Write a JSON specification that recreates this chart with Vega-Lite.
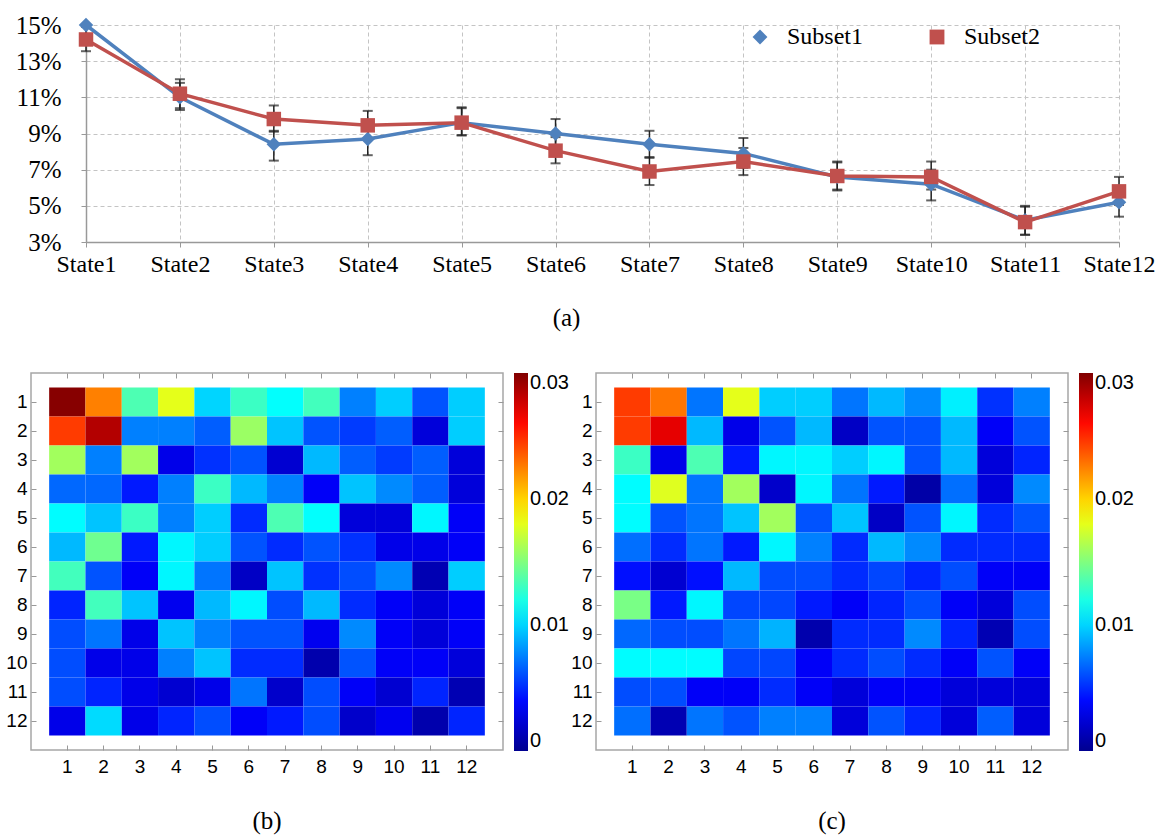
{
  "$schema": "https://vega.github.io/schema/vega-lite/v6.json",
  "background": "white",
  "padding": {"left": 5, "top": 13, "right": 0, "bottom": 0},
  "config": {"view": {"stroke": null}, "font": "Liberation Sans"},
  "spacing": 40,
  "datasets": {
    "lines": [
      {"state": "State1", "series": "Subset1", "value": 15.0, "lo": 14.3, "hi": 15.0},
      {"state": "State2", "series": "Subset1", "value": 11.0, "lo": 10.3, "hi": 11.8},
      {"state": "State3", "series": "Subset1", "value": 8.4, "lo": 7.5, "hi": 9.15},
      {"state": "State4", "series": "Subset1", "value": 8.7, "lo": 7.8, "hi": 9.5},
      {"state": "State5", "series": "Subset1", "value": 9.6, "lo": 8.9, "hi": 10.4},
      {"state": "State6", "series": "Subset1", "value": 9.0, "lo": 8.2, "hi": 9.8},
      {"state": "State7", "series": "Subset1", "value": 8.4, "lo": 7.65, "hi": 9.15},
      {"state": "State8", "series": "Subset1", "value": 7.9, "lo": 7.1, "hi": 8.75},
      {"state": "State9", "series": "Subset1", "value": 6.6, "lo": 5.85, "hi": 7.4},
      {"state": "State10", "series": "Subset1", "value": 6.2, "lo": 5.3, "hi": 7.0},
      {"state": "State11", "series": "Subset1", "value": 4.2, "lo": 3.4, "hi": 5.0},
      {"state": "State12", "series": "Subset1", "value": 5.2, "lo": 4.4, "hi": 6.0},
      {"state": "State1", "series": "Subset2", "value": 14.2, "lo": 13.55, "hi": 14.9},
      {"state": "State2", "series": "Subset2", "value": 11.2, "lo": 10.4, "hi": 12.0},
      {"state": "State3", "series": "Subset2", "value": 9.8, "lo": 9.1, "hi": 10.55},
      {"state": "State4", "series": "Subset2", "value": 9.45, "lo": 8.7, "hi": 10.25},
      {"state": "State5", "series": "Subset2", "value": 9.6, "lo": 8.9, "hi": 10.45},
      {"state": "State6", "series": "Subset2", "value": 8.05, "lo": 7.35, "hi": 8.8},
      {"state": "State7", "series": "Subset2", "value": 6.9, "lo": 6.15, "hi": 7.7},
      {"state": "State8", "series": "Subset2", "value": 7.45, "lo": 6.7, "hi": 8.2},
      {"state": "State9", "series": "Subset2", "value": 6.65, "lo": 5.9, "hi": 7.45},
      {"state": "State10", "series": "Subset2", "value": 6.6, "lo": 5.9, "hi": 7.45},
      {"state": "State11", "series": "Subset2", "value": 4.1, "lo": 3.4, "hi": 4.95},
      {"state": "State12", "series": "Subset2", "value": 5.8, "lo": 5.05, "hi": 6.6}
    ],
    "b": [
      {"r":1,"c":1,"v":0.0298},{"r":1,"c":2,"v":0.0225},{"r":1,"c":3,"v":0.0135},{"r":1,"c":4,"v":0.018},{"r":1,"c":5,"v":0.0100},{"r":1,"c":6,"v":0.0130},{"r":1,"c":7,"v":0.0113},{"r":1,"c":8,"v":0.0132},{"r":1,"c":9,"v":0.0075},{"r":1,"c":10,"v":0.0098},{"r":1,"c":11,"v":0.0062},{"r":1,"c":12,"v":0.0098},
      {"r":2,"c":1,"v":0.0245},{"r":2,"c":2,"v":0.0285},{"r":2,"c":3,"v":0.0075},{"r":2,"c":4,"v":0.0075},{"r":2,"c":5,"v":0.0065},{"r":2,"c":6,"v":0.0158},{"r":2,"c":7,"v":0.0095},{"r":2,"c":8,"v":0.0062},{"r":2,"c":9,"v":0.0055},{"r":2,"c":10,"v":0.0065},{"r":2,"c":11,"v":0.0025},{"r":2,"c":12,"v":0.0098},
      {"r":3,"c":1,"v":0.016},{"r":3,"c":2,"v":0.0075},{"r":3,"c":3,"v":0.016},{"r":3,"c":4,"v":0.003},{"r":3,"c":5,"v":0.0052},{"r":3,"c":6,"v":0.0062},{"r":3,"c":7,"v":0.0022},{"r":3,"c":8,"v":0.0092},{"r":3,"c":9,"v":0.0065},{"r":3,"c":10,"v":0.0055},{"r":3,"c":11,"v":0.0065},{"r":3,"c":12,"v":0.0025},
      {"r":4,"c":1,"v":0.0068},{"r":4,"c":2,"v":0.0068},{"r":4,"c":3,"v":0.0045},{"r":4,"c":4,"v":0.0075},{"r":4,"c":5,"v":0.013},{"r":4,"c":6,"v":0.0092},{"r":4,"c":7,"v":0.0075},{"r":4,"c":8,"v":0.0035},{"r":4,"c":9,"v":0.0095},{"r":4,"c":10,"v":0.0078},{"r":4,"c":11,"v":0.0065},{"r":4,"c":12,"v":0.0025},
      {"r":5,"c":1,"v":0.0112},{"r":5,"c":2,"v":0.0095},{"r":5,"c":3,"v":0.013},{"r":5,"c":4,"v":0.0075},{"r":5,"c":5,"v":0.0098},{"r":5,"c":6,"v":0.005},{"r":5,"c":7,"v":0.0135},{"r":5,"c":8,"v":0.0113},{"r":5,"c":9,"v":0.0025},{"r":5,"c":10,"v":0.0025},{"r":5,"c":11,"v":0.011},{"r":5,"c":12,"v":0.0035},
      {"r":6,"c":1,"v":0.0092},{"r":6,"c":2,"v":0.0145},{"r":6,"c":3,"v":0.0045},{"r":6,"c":4,"v":0.011},{"r":6,"c":5,"v":0.0098},{"r":6,"c":6,"v":0.0062},{"r":6,"c":7,"v":0.005},{"r":6,"c":8,"v":0.0062},{"r":6,"c":9,"v":0.0052},{"r":6,"c":10,"v":0.003},{"r":6,"c":11,"v":0.003},{"r":6,"c":12,"v":0.0035},
      {"r":7,"c":1,"v":0.0132},{"r":7,"c":2,"v":0.0062},{"r":7,"c":3,"v":0.0035},{"r":7,"c":4,"v":0.011},{"r":7,"c":5,"v":0.0072},{"r":7,"c":6,"v":0.0018},{"r":7,"c":7,"v":0.0095},{"r":7,"c":8,"v":0.0052},{"r":7,"c":9,"v":0.006},{"r":7,"c":10,"v":0.0078},{"r":7,"c":11,"v":0.0012},{"r":7,"c":12,"v":0.0098},
      {"r":8,"c":1,"v":0.0048},{"r":8,"c":2,"v":0.0132},{"r":8,"c":3,"v":0.0095},{"r":8,"c":4,"v":0.0032},{"r":8,"c":5,"v":0.0092},{"r":8,"c":6,"v":0.011},{"r":8,"c":7,"v":0.006},{"r":8,"c":8,"v":0.0092},{"r":8,"c":9,"v":0.005},{"r":8,"c":10,"v":0.0035},{"r":8,"c":11,"v":0.0025},{"r":8,"c":12,"v":0.0035},
      {"r":9,"c":1,"v":0.006},{"r":9,"c":2,"v":0.0072},{"r":9,"c":3,"v":0.003},{"r":9,"c":4,"v":0.0095},{"r":9,"c":5,"v":0.0075},{"r":9,"c":6,"v":0.0062},{"r":9,"c":7,"v":0.0062},{"r":9,"c":8,"v":0.0032},{"r":9,"c":9,"v":0.0078},{"r":9,"c":10,"v":0.0035},{"r":9,"c":11,"v":0.0025},{"r":9,"c":12,"v":0.0035},
      {"r":10,"c":1,"v":0.006},{"r":10,"c":2,"v":0.003},{"r":10,"c":3,"v":0.003},{"r":10,"c":4,"v":0.0075},{"r":10,"c":5,"v":0.0095},{"r":10,"c":6,"v":0.005},{"r":10,"c":7,"v":0.005},{"r":10,"c":8,"v":0.001},{"r":10,"c":9,"v":0.0062},{"r":10,"c":10,"v":0.0035},{"r":10,"c":11,"v":0.0035},{"r":10,"c":12,"v":0.0025},
      {"r":11,"c":1,"v":0.006},{"r":11,"c":2,"v":0.0048},{"r":11,"c":3,"v":0.003},{"r":11,"c":4,"v":0.0022},{"r":11,"c":5,"v":0.003},{"r":11,"c":6,"v":0.0072},{"r":11,"c":7,"v":0.002},{"r":11,"c":8,"v":0.006},{"r":11,"c":9,"v":0.0035},{"r":11,"c":10,"v":0.0022},{"r":11,"c":11,"v":0.0048},{"r":11,"c":12,"v":0.0012},
      {"r":12,"c":1,"v":0.003},{"r":12,"c":2,"v":0.0102},{"r":12,"c":3,"v":0.003},{"r":12,"c":4,"v":0.0048},{"r":12,"c":5,"v":0.006},{"r":12,"c":6,"v":0.0035},{"r":12,"c":7,"v":0.0045},{"r":12,"c":8,"v":0.006},{"r":12,"c":9,"v":0.002},{"r":12,"c":10,"v":0.0032},{"r":12,"c":11,"v":0.001},{"r":12,"c":12,"v":0.0048}
    ],
    "c": [
      {"r":1,"c":1,"v":0.0245},{"r":1,"c":2,"v":0.0228},{"r":1,"c":3,"v":0.0072},{"r":1,"c":4,"v":0.018},{"r":1,"c":5,"v":0.0098},{"r":1,"c":6,"v":0.0098},{"r":1,"c":7,"v":0.0072},{"r":1,"c":8,"v":0.0092},{"r":1,"c":9,"v":0.0078},{"r":1,"c":10,"v":0.0108},{"r":1,"c":11,"v":0.0052},{"r":1,"c":12,"v":0.0075},
      {"r":2,"c":1,"v":0.0245},{"r":2,"c":2,"v":0.027},{"r":2,"c":3,"v":0.0092},{"r":2,"c":4,"v":0.003},{"r":2,"c":5,"v":0.0062},{"r":2,"c":6,"v":0.0092},{"r":2,"c":7,"v":0.0018},{"r":2,"c":8,"v":0.0062},{"r":2,"c":9,"v":0.0062},{"r":2,"c":10,"v":0.0092},{"r":2,"c":11,"v":0.0035},{"r":2,"c":12,"v":0.0062},
      {"r":3,"c":1,"v":0.013},{"r":3,"c":2,"v":0.003},{"r":3,"c":3,"v":0.0135},{"r":3,"c":4,"v":0.0045},{"r":3,"c":5,"v":0.011},{"r":3,"c":6,"v":0.011},{"r":3,"c":7,"v":0.0098},{"r":3,"c":8,"v":0.011},{"r":3,"c":9,"v":0.0062},{"r":3,"c":10,"v":0.0092},{"r":3,"c":11,"v":0.0025},{"r":3,"c":12,"v":0.0048},
      {"r":4,"c":1,"v":0.0112},{"r":4,"c":2,"v":0.0178},{"r":4,"c":3,"v":0.0072},{"r":4,"c":4,"v":0.016},{"r":4,"c":5,"v":0.002},{"r":4,"c":6,"v":0.011},{"r":4,"c":7,"v":0.0072},{"r":4,"c":8,"v":0.0045},{"r":4,"c":9,"v":0.0008},{"r":4,"c":10,"v":0.007},{"r":4,"c":11,"v":0.0025},{"r":4,"c":12,"v":0.0078},
      {"r":5,"c":1,"v":0.0112},{"r":5,"c":2,"v":0.0062},{"r":5,"c":3,"v":0.0072},{"r":5,"c":4,"v":0.0095},{"r":5,"c":5,"v":0.016},{"r":5,"c":6,"v":0.0062},{"r":5,"c":7,"v":0.0095},{"r":5,"c":8,"v":0.0018},{"r":5,"c":9,"v":0.0062},{"r":5,"c":10,"v":0.011},{"r":5,"c":11,"v":0.005},{"r":5,"c":12,"v":0.0062},
      {"r":6,"c":1,"v":0.007},{"r":6,"c":2,"v":0.005},{"r":6,"c":3,"v":0.0072},{"r":6,"c":4,"v":0.0045},{"r":6,"c":5,"v":0.011},{"r":6,"c":6,"v":0.0075},{"r":6,"c":7,"v":0.005},{"r":6,"c":8,"v":0.0092},{"r":6,"c":9,"v":0.0078},{"r":6,"c":10,"v":0.005},{"r":6,"c":11,"v":0.005},{"r":6,"c":12,"v":0.005},
      {"r":7,"c":1,"v":0.0042},{"r":7,"c":2,"v":0.0022},{"r":7,"c":3,"v":0.0042},{"r":7,"c":4,"v":0.0092},{"r":7,"c":5,"v":0.006},{"r":7,"c":6,"v":0.006},{"r":7,"c":7,"v":0.005},{"r":7,"c":8,"v":0.0058},{"r":7,"c":9,"v":0.0048},{"r":7,"c":10,"v":0.006},{"r":7,"c":11,"v":0.0035},{"r":7,"c":12,"v":0.0035},
      {"r":8,"c":1,"v":0.0148},{"r":8,"c":2,"v":0.0045},{"r":8,"c":3,"v":0.011},{"r":8,"c":4,"v":0.0058},{"r":8,"c":5,"v":0.0058},{"r":8,"c":6,"v":0.0045},{"r":8,"c":7,"v":0.0035},{"r":8,"c":8,"v":0.0048},{"r":8,"c":9,"v":0.006},{"r":8,"c":10,"v":0.0035},{"r":8,"c":11,"v":0.0025},{"r":8,"c":12,"v":0.006},
      {"r":9,"c":1,"v":0.0068},{"r":9,"c":2,"v":0.006},{"r":9,"c":3,"v":0.006},{"r":9,"c":4,"v":0.0072},{"r":9,"c":5,"v":0.009},{"r":9,"c":6,"v":0.001},{"r":9,"c":7,"v":0.005},{"r":9,"c":8,"v":0.005},{"r":9,"c":9,"v":0.0078},{"r":9,"c":10,"v":0.0048},{"r":9,"c":11,"v":0.0012},{"r":9,"c":12,"v":0.006},
      {"r":10,"c":1,"v":0.0112},{"r":10,"c":2,"v":0.0112},{"r":10,"c":3,"v":0.0112},{"r":10,"c":4,"v":0.0058},{"r":10,"c":5,"v":0.0058},{"r":10,"c":6,"v":0.0035},{"r":10,"c":7,"v":0.005},{"r":10,"c":8,"v":0.006},{"r":10,"c":9,"v":0.005},{"r":10,"c":10,"v":0.0035},{"r":10,"c":11,"v":0.0062},{"r":10,"c":12,"v":0.0035},
      {"r":11,"c":1,"v":0.006},{"r":11,"c":2,"v":0.006},{"r":11,"c":3,"v":0.0035},{"r":11,"c":4,"v":0.0035},{"r":11,"c":5,"v":0.005},{"r":11,"c":6,"v":0.0035},{"r":11,"c":7,"v":0.0025},{"r":11,"c":8,"v":0.0035},{"r":11,"c":9,"v":0.0035},{"r":11,"c":10,"v":0.0025},{"r":11,"c":11,"v":0.0025},{"r":11,"c":12,"v":0.0025},
      {"r":12,"c":1,"v":0.007},{"r":12,"c":2,"v":0.0012},{"r":12,"c":3,"v":0.0072},{"r":12,"c":4,"v":0.0062},{"r":12,"c":5,"v":0.0075},{"r":12,"c":6,"v":0.0075},{"r":12,"c":7,"v":0.0025},{"r":12,"c":8,"v":0.0062},{"r":12,"c":9,"v":0.0048},{"r":12,"c":10,"v":0.0025},{"r":12,"c":11,"v":0.0065},{"r":12,"c":12,"v":0.0025}
    ]
  },
  "vconcat": [
    {
      "bounds": "flush",
      "spacing": 0,
      "hconcat": [
        {
          "width": 55, "height": 10,
          "data": {"values": []},
          "mark": {"type": "point", "opacity": 0}
        },
        {
          "width": 1033,
          "height": 217,
          "data": {"name": "lines"},
          "title": {"text": "(a)", "orient": "bottom", "anchor": "middle", "offset": 30, "dx": -36, "font": "Liberation Serif", "fontSize": 25, "fontWeight": "normal", "color": "#000"},
          "encoding": {
            "x": {
              "field": "state", "type": "ordinal",
              "sort": ["State1","State2","State3","State4","State5","State6","State7","State8","State9","State10","State11","State12"],
              "scale": {"type": "point", "padding": 0},
              "axis": {
                "title": null, "labelAngle": 0, "labelFont": "Liberation Serif", "labelFontSize": 24, "labelColor": "#000",
                "tickSize": 5, "tickColor": "#999", "domainColor": "#999", "domainWidth": 1.5, "labelPadding": 5,
                "labelOverlap": false, "grid": true, "gridDash": [4, 3], "gridColor": "#c4c4c4"
              }
            }
          },
          "layer": [
            {
              "mark": {"type": "rule", "strokeWidth": 1.5, "color": "#222"},
              "encoding": {
                "y": {
                  "field": "lo", "type": "quantitative", "title": null,
                  "scale": {"domain": [3, 15], "nice": false, "zero": false},
                  "axis": {
                    "values": [3, 5, 7, 9, 11, 13, 15], "tickCount": 20, "labelExpr": "datum.value + '%'", "labelOverlap": false,
                    "labelFont": "Liberation Serif", "labelFontSize": 25, "labelColor": "#000",
                    "tickSize": 5, "tickColor": "#999", "domainColor": "#999", "domainWidth": 1.5, "labelPadding": 20,
                    "grid": true, "gridDash": [4, 3], "gridColor": "#c4c4c4"
                  }
                },
                "y2": {"field": "hi"},
                "detail": {"field": "series"}
              }
            },
            {
              "mark": {"type": "tick", "size": 10, "thickness": 2, "color": "#222"},
              "encoding": {"y": {"field": "lo", "type": "quantitative", "title": null}}
            },
            {
              "mark": {"type": "tick", "size": 10, "thickness": 2, "color": "#222"},
              "encoding": {"y": {"field": "hi", "type": "quantitative", "title": null}}
            },
            {
              "mark": {"type": "line", "strokeWidth": 3.5},
              "encoding": {
                "y": {"field": "value", "type": "quantitative", "title": null},
                "color": {
                  "field": "series", "type": "nominal",
                  "scale": {"domain": ["Subset1", "Subset2"], "range": ["#4f81bd", "#c0504d"]},
                  "legend": {
                    "orient": "none", "legendX": 717, "legendY": 0, "direction": "horizontal", "title": null,
                    "labelFont": "Liberation Serif", "labelFontSize": 24, "labelColor": "#000",
                    "symbolSize": 220, "symbolStrokeWidth": 0, "columnPadding": 61, "labelOffset": 15
                  }
                }
              }
            },
            {
              "mark": {"type": "point", "filled": true, "opacity": 1, "size": 210},
              "encoding": {
                "y": {"field": "value", "type": "quantitative", "title": null},
                "color": {"field": "series", "type": "nominal"},
                "shape": {"field": "series", "type": "nominal", "scale": {"domain": ["Subset1", "Subset2"], "range": ["diamond", "square"]}, "legend": null}
              }
            }
          ]
        }
      ]
    },
    {
      "spacing": 0,
      "resolve": {"scale": {"color": "independent"}},
      "hconcat": [
        {
          "width": 472, "height": 377,
          "data": {"name": "b"},
          "view": {"stroke": "#a6a6a6", "strokeWidth": 1.5},
          "title": {"text": "(b)", "orient": "bottom", "anchor": "middle", "offset": 33, "font": "Liberation Serif", "fontSize": 25, "fontWeight": "normal", "color": "#000"},
          "layer": [
            {
              "mark": {"type": "rect"},
              "encoding": {
                "x": {"field": "c", "type": "ordinal", "scale": {"paddingInner": 0, "paddingOuter": 0.5},
                  "axis": {"orient": "bottom", "title": null, "labelAngle": 0, "labelFont": "Liberation Sans", "labelFontSize": 19, "labelColor": "#000", "tickSize": -5, "tickColor": "#999", "labelPadding": 12, "domain": false}},
                "y": {"field": "r", "type": "ordinal", "scale": {"paddingInner": 0, "paddingOuter": 0.5},
                  "axis": {"orient": "left", "title": null, "labelFont": "Liberation Sans", "labelFontSize": 19, "labelColor": "#000", "tickSize": -5, "tickColor": "#999", "labelPadding": 9, "domain": false}},
                "color": {
                  "field": "v", "type": "quantitative",
                  "scale": {"type": "linear", "domain": [0, 0.00375, 0.01125, 0.01875, 0.02625, 0.03], "range": ["#00008f", "#0000ff", "#00ffff", "#ffff00", "#ff0000", "#800000"], "interpolate": "rgb", "clamp": true},
                  "legend": {"type": "gradient", "direction": "vertical", "orient": "right", "offset": 10, "padding": 0, "title": null,
                    "gradientLength": 378, "gradientThickness": 14, "gradientStrokeWidth": 0,
                    "values": [0, 0.01, 0.02, 0.03], "format": ".2~f", "labelFont": "Liberation Sans", "labelFontSize": 20, "labelColor": "#000", "labelBaseline": "middle", "labelOffset": 2, "labelOverlap": false}
                }
              }
            },
            {
              "mark": {"type": "rect", "opacity": 0},
              "encoding": {
                "x": {"field": "c", "type": "ordinal", "axis": {"orient": "top", "title": null, "labels": false, "tickSize": -5, "tickColor": "#999", "domain": false}},
                "y": {"field": "r", "type": "ordinal", "axis": {"orient": "right", "title": null, "labels": false, "tickSize": -5, "tickColor": "#999", "domain": false}}
              }
            }
          ],
          "resolve": {"axis": {"x": "independent", "y": "independent"}}
        },
        {
          "width": 472, "height": 377,
          "data": {"name": "c"},
          "view": {"stroke": "#a6a6a6", "strokeWidth": 1.5},
          "title": {"text": "(c)", "orient": "bottom", "anchor": "middle", "offset": 33, "font": "Liberation Serif", "fontSize": 25, "fontWeight": "normal", "color": "#000"},
          "layer": [
            {
              "mark": {"type": "rect"},
              "encoding": {
                "x": {"field": "c", "type": "ordinal", "scale": {"paddingInner": 0, "paddingOuter": 0.5},
                  "axis": {"orient": "bottom", "title": null, "labelAngle": 0, "labelFont": "Liberation Sans", "labelFontSize": 19, "labelColor": "#000", "tickSize": -5, "tickColor": "#999", "labelPadding": 12, "domain": false}},
                "y": {"field": "r", "type": "ordinal", "scale": {"paddingInner": 0, "paddingOuter": 0.5},
                  "axis": {"orient": "left", "title": null, "labelFont": "Liberation Sans", "labelFontSize": 19, "labelColor": "#000", "tickSize": -5, "tickColor": "#999", "labelPadding": 9, "domain": false}},
                "color": {
                  "field": "v", "type": "quantitative",
                  "scale": {"type": "linear", "domain": [0, 0.00375, 0.01125, 0.01875, 0.02625, 0.03], "range": ["#00008f", "#0000ff", "#00ffff", "#ffff00", "#ff0000", "#800000"], "interpolate": "rgb", "clamp": true},
                  "legend": {"type": "gradient", "direction": "vertical", "orient": "right", "offset": 10, "padding": 0, "title": null,
                    "gradientLength": 378, "gradientThickness": 14, "gradientStrokeWidth": 0,
                    "values": [0, 0.01, 0.02, 0.03], "format": ".2~f", "labelFont": "Liberation Sans", "labelFontSize": 20, "labelColor": "#000", "labelBaseline": "middle", "labelOffset": 2, "labelOverlap": false}
                }
              }
            },
            {
              "mark": {"type": "rect", "opacity": 0},
              "encoding": {
                "x": {"field": "c", "type": "ordinal", "axis": {"orient": "top", "title": null, "labels": false, "tickSize": -5, "tickColor": "#999", "domain": false}},
                "y": {"field": "r", "type": "ordinal", "axis": {"orient": "right", "title": null, "labels": false, "tickSize": -5, "tickColor": "#999", "domain": false}}
              }
            }
          ],
          "resolve": {"axis": {"x": "independent", "y": "independent"}}
        }
      ]
    }
  ]
}
